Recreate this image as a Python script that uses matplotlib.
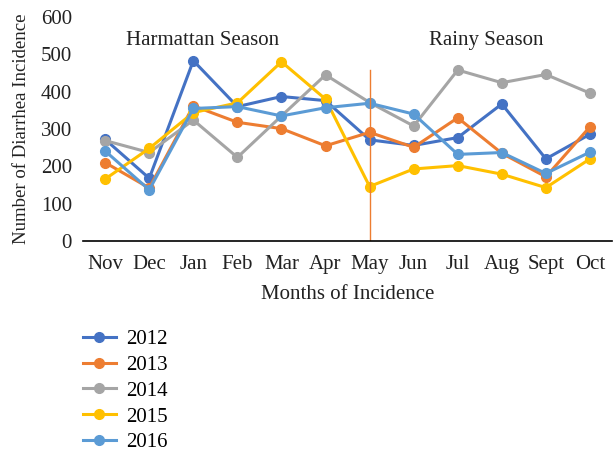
import matplotlib
matplotlib.use("Agg")
import matplotlib.pyplot as plt

months = ["Nov", "Dec", "Jan", "Feb", "Mar", "Apr", "May", "Jun", "Jul", "Aug", "Sept", "Oct"]
y2012 = [272, 168, 483, 360, 387, 376, 271, 256, 277, 367, 220, 286]
y2013 = [210, 142, 362, 318, 301, 255, 291, 251, 330, 235, 172, 306]
y2014 = [269, 237, 324, 224, 335, 445, 371, 308, 458, 424, 446, 396]
y2015 = [166, 248, 344, 370, 480, 380, 146, 193, 202, 179, 143, 220]
y2016 = [241, 137, 355, 360, 335, 357, 369, 340, 232, 237, 181, 238]
years = ["2012", "2013", "2014", "2015", "2016"]
series = [y2012, y2013, y2014, y2015, y2016]
colors = ["#4472C4", "#ED7D31", "#A5A5A5", "#FFC000", "#5B9BD5"]

plt.rcParams['font.family'] = ['Liberation Serif', 'DejaVu Serif']

fig = plt.figure(figsize=(6.16, 4.51), dpi=100)
ax = fig.add_axes([0.135, 0.4656, 0.8585, 0.4967])

x = range(len(months))
for name, vals, c in zip(years, series, colors):
    ax.plot(x, vals, color=c, lw=2.2, marker='o', ms=7, label=name)

# season divider at May
ax.plot([6, 6], [0, 458], color="#ED7D31", lw=1)

ax.text(2.2, 538, "Harmattan Season", ha='center', va='center', fontsize=15, color='#222222')
ax.text(8.64, 538, "Rainy Season", ha='center', va='center', fontsize=15, color='#222222')

ax.set_xlim(-0.5, 11.5)
ax.set_ylim(0, 600)
ax.set_yticks(range(0, 601, 100))
ax.set_xticks(list(x))
ax.set_xticklabels(months)
ax.tick_params(labelsize=15, length=0, colors='#222222')
ax.tick_params(axis='x', pad=10)
ax.tick_params(axis='y', pad=8)
for s in ['top', 'right', 'left']:
    ax.spines[s].set_visible(False)
ax.spines['bottom'].set_linewidth(1.2)
ax.set_xlabel("Months of Incidence", fontsize=15, color='#222222', labelpad=8)
ax.set_ylabel("Number of Diarrhea Incidence", fontsize=13.5, color='#222222', labelpad=8)

fig.legend(loc='upper left', bbox_to_anchor=(0.104, 0.311), frameon=False,
           fontsize=15, handlelength=1.6, handletextpad=0.5, labelspacing=0.3)

fig.savefig("out.png", dpi=100)
